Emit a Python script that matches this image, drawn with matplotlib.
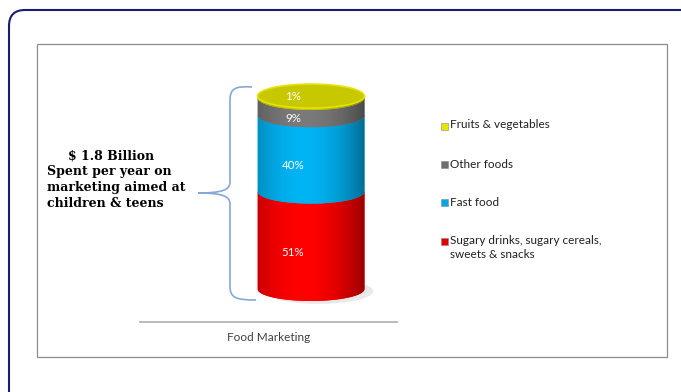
import numpy as np
import matplotlib
matplotlib.use("Agg")
import matplotlib.pyplot as plt
from matplotlib.patches import Rectangle, FancyBboxPatch, Ellipse, PathPatch
from matplotlib.path import Path
from matplotlib.transforms import Affine2D
import matplotlib.colors as mcolors

# ---------------- data ----------------
categories = ["Sugary drinks, sugary cereals,\nsweets & snacks", "Fast food", "Other foods", "Fruits & vegetables"]
values = [51, 40, 9, 1]
pct_labels = ["51%", "40%", "9%", "1%"]
seg_colors = ["#ff0000", "#00b4f4", "#7a7a7a", "#c8c800"]
legend_colors = ["#e00000", "#00a8e8", "#6e6e6e", "#e6e600"]
axis_label = "Food Marketing"
side_title = "$ 1.8 Billion"
side_lines = ["Spent per year on", "marketing aimed at", "children & teens"]

W, H = 681, 392
fig = plt.figure(figsize=(W / 100, H / 100), dpi=100)
fig.patch.set_facecolor("white")
# pixel transform (origin top-left)
px = Affine2D().scale(1 / W, -1 / H).translate(0, 1) + fig.transFigure

# outer rounded frame
outer = FancyBboxPatch((9, 10), 690, 400, boxstyle="round,pad=0,rounding_size=16",
                       transform=px, facecolor="none", edgecolor="#1c1c6e", lw=1.5)
fig.patches.append(outer)
# inner chart box
inner = Rectangle((37, 44), 630, 313, transform=px, facecolor="none",
                  edgecolor="#8c8c8c", lw=0.9)
fig.patches.append(inner)

# axes
ax_l, ax_r, ax_b, ax_t = 140, 397, 322, 60
ax = fig.add_axes([ax_l / W, 1 - ax_b / H, (ax_r - ax_l) / W, (ax_b - ax_t) / H])
ax.set_facecolor("none")
y0px = 289
scale = 1.91
xc_px = 311
bw_px = 107
ax.set_ylim(-(ax_b - y0px) / scale, (y0px - ax_t) / scale)
ax.set_xlim(-(xc_px - ax_l) / (ax_r - ax_l), (ax_r - xc_px) / (ax_r - ax_l))
bw = bw_px / (ax_r - ax_l)
eh = 24 / scale  # ellipse full height in data units
for s in ["top", "left", "right"]:
    ax.spines[s].set_visible(False)
ax.spines["bottom"].set_color("#b4b4b4")
ax.spines["bottom"].set_linewidth(1.3)
ax.set_xticks([])
ax.set_yticks([])
ax.set_xlabel(axis_label, fontsize=8.5, family="Lato", color="#404040", labelpad=7)

# shadow
ax.add_patch(Ellipse((0.03, -1.2), bw * 1.02, eh * 1.05, facecolor="#aaaaaa",
                     alpha=0.25, edgecolor="none", zorder=1))

def seg_path(x, bottom, top, w, h):
    t = np.linspace(np.pi, 2 * np.pi, 60)
    ex = x + (w / 2) * np.cos(t)
    ey = bottom + (h / 2) * np.sin(t)
    verts = [(x - w / 2, top)] + list(zip(ex, ey)) + [(x + w / 2, top), (x - w / 2, top)]
    codes = [Path.MOVETO] + [Path.LINETO] * (len(verts) - 2) + [Path.CLOSEPOLY]
    return Path(verts, codes)

xs = np.linspace(0, 1, 200)
shade = 0.6 + 0.4 * np.clip(1 - ((xs - 0.42) / 0.58) ** 2, 0, 1)
bottoms = np.concatenate([[0], np.cumsum(values)[:-1]])
bars = ax.bar([0] * len(values), values, bottom=bottoms, width=bw, color=seg_colors,
              edgecolor="none", zorder=2)
for i, (v, b, c) in enumerate(zip(values, bottoms, seg_colors)):
    bars[i].set_visible(False)
    p = PathPatch(seg_path(0, b, b + v, bw, eh), facecolor=c, edgecolor="none", zorder=3 + i)
    ax.add_patch(p)
    rgb = np.array(mcolors.to_rgb(c))
    img = (shade[:, None] * rgb[None, :])[None, :, :]
    im = ax.imshow(img, extent=(-bw / 2, bw / 2, b - eh, b + v), aspect="auto",
                   zorder=3 + i + 0.5, interpolation="bilinear")
    im.set_clip_path(p)

top_val = sum(values)
lid = Ellipse((0, top_val), bw, eh, facecolor="#c8c800", edgecolor="#e4e400", lw=1.2, zorder=10)
ax.add_patch(lid)

for i, (v, b, lab) in enumerate(zip(values, bottoms, pct_labels)):
    if i == len(values) - 1:
        ytxt = top_val
    else:
        ytxt = b + v / 2 - eh / 2
    ax.text(-0.07, ytxt, lab, ha="center", va="center", color="white", fontsize=8.3,
            family="Lato", zorder=11)

ax.set_xlim(-(xc_px - ax_l) / (ax_r - ax_l), (ax_r - xc_px) / (ax_r - ax_l))
ax.set_ylim(-(ax_b - y0px) / scale, (y0px - ax_t) / scale)

# brace
bverts = [(252, 87), (236, 86), (230, 88), (230, 100), (230, 182),
          (230, 190), (222, 193), (198, 193),
          (222, 193), (230, 196), (230, 204), (230, 286),
          (230, 298), (236, 300), (256, 300)]
bcodes = [Path.MOVETO, Path.CURVE4, Path.CURVE4, Path.CURVE4, Path.LINETO,
          Path.CURVE4, Path.CURVE4, Path.CURVE4,
          Path.CURVE4, Path.CURVE4, Path.CURVE4, Path.LINETO,
          Path.CURVE4, Path.CURVE4, Path.CURVE4]
fig.patches.append(PathPatch(Path(bverts, bcodes), transform=px, facecolor="none",
                             edgecolor="#86a8d8", lw=1.2))

# side text
fig.text(111 / W, 1 - 156 / H, side_title, ha="center", va="center", fontsize=9,
         family="DejaVu Serif", weight="bold", color="black")
for k, line in enumerate(side_lines):
    fig.text(47 / W, 1 - (172 + 15.5 * k) / H, line, ha="left", va="center", fontsize=9,
             family="DejaVu Serif", weight="bold", color="black")

# legend (top entry first)
leg_y = [126, 165, 203, 242]
for k, idx in enumerate(range(len(categories) - 1, -1, -1)):
    y = leg_y[k]
    fig.patches.append(Rectangle((441, y - 3.5), 7, 7, transform=px,
                                 facecolor=legend_colors[idx], edgecolor="#888888", lw=0.4))
    fig.text(449.5 / W, 1 - (y - 6.5) / H, categories[idx], ha="left", va="top",
             fontsize=8.5, family="Lato", color="#202020", linespacing=1.3)

fig.savefig("out.png", dpi=100)
